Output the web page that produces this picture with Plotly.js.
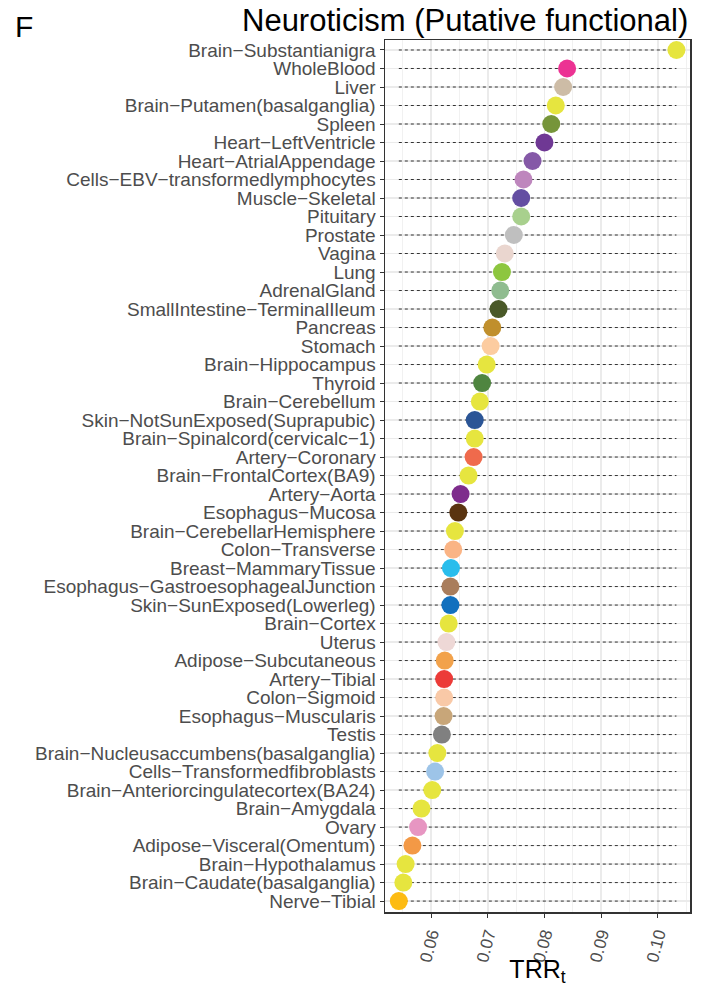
<!DOCTYPE html>
<html>
<head>
<meta charset="utf-8">
<script src="https://cdn.plot.ly/plotly-3.0.1.min.js"></script>
<style>
  html, body { margin: 0; padding: 0; background: #ffffff; }
  #chart { width: 706px; height: 987px; }
</style>
</head>
<body>
<div id="chart"></div>
<script>
// Tissues, ordered top to bottom
const tissues = [
  "Brain\u2212Substantianigra", "WholeBlood", "Liver", "Brain\u2212Putamen(basalganglia)", "Spleen",
  "Heart\u2212LeftVentricle", "Heart\u2212AtrialAppendage", "Cells\u2212EBV\u2212transformedlymphocytes",
  "Muscle\u2212Skeletal", "Pituitary", "Prostate", "Vagina", "Lung", "AdrenalGland",
  "SmallIntestine\u2212TerminalIleum", "Pancreas", "Stomach", "Brain\u2212Hippocampus", "Thyroid",
  "Brain\u2212Cerebellum", "Skin\u2212NotSunExposed(Suprapubic)", "Brain\u2212Spinalcord(cervicalc\u22121)",
  "Artery\u2212Coronary", "Brain\u2212FrontalCortex(BA9)", "Artery\u2212Aorta", "Esophagus\u2212Mucosa",
  "Brain\u2212CerebellarHemisphere", "Colon\u2212Transverse", "Breast\u2212MammaryTissue",
  "Esophagus\u2212GastroesophagealJunction", "Skin\u2212SunExposed(Lowerleg)", "Brain\u2212Cortex",
  "Uterus", "Adipose\u2212Subcutaneous", "Artery\u2212Tibial", "Colon\u2212Sigmoid",
  "Esophagus\u2212Muscularis", "Testis", "Brain\u2212Nucleusaccumbens(basalganglia)",
  "Cells\u2212Transformedfibroblasts", "Brain\u2212Anteriorcingulatecortex(BA24)", "Brain\u2212Amygdala",
  "Ovary", "Adipose\u2212Visceral(Omentum)", "Brain\u2212Hypothalamus", "Brain\u2212Caudate(basalganglia)",
  "Nerve\u2212Tibial"
];

// TRR_t per tissue
const trrValues = [
  0.1033, 0.0840, 0.0833, 0.0820, 0.0812,
  0.0800, 0.0779, 0.0763,
  0.0759, 0.0759, 0.0746, 0.0730, 0.0725, 0.0722,
  0.0719, 0.0708, 0.0705, 0.0698, 0.0690,
  0.0686, 0.0677, 0.0677,
  0.0675, 0.0666, 0.0652, 0.0648,
  0.0642, 0.0639, 0.0635,
  0.0634, 0.0634, 0.0631,
  0.0627, 0.0624, 0.0623, 0.0623,
  0.0622, 0.0619, 0.0611,
  0.0607, 0.0602, 0.0583,
  0.0577, 0.0567, 0.0555, 0.0551,
  0.0543
];

// Tissue colours
const tissueColors = [
  "#E6E53F", "#EC3293", "#CDBCA6", "#E6E53F", "#76953A",
  "#6F3894", "#8559A7", "#BE86BD",
  "#644EA2", "#A8D08D", "#BFBFBF", "#EAD6CF", "#8DC63F", "#8FBC8F",
  "#4A5928", "#C08F2C", "#FCCCA0", "#E6E53F", "#4F8540",
  "#E6E53F", "#2B5596", "#E6E53F",
  "#EF6A4C", "#E6E53F", "#7E2C8C", "#5A3410",
  "#E6E53F", "#FAB485", "#29BDEC",
  "#A97D5C", "#1270BE", "#E6E53F",
  "#EED8D6", "#F2A24B", "#EC3B38", "#F9C9A7",
  "#C8A679", "#808080", "#E6E53F",
  "#9DC4E8", "#E6E53F", "#E6E53F",
  "#E796C2", "#F39946", "#E6E53F", "#E6E53F",
  "#FDBB12"
];

const xTickVals = [0.06, 0.07, 0.08, 0.09, 0.10];
const xTickText = ["0.06", "0.07", "0.08", "0.09", "0.10"];

// Dashed guide for each row, spanning the lowest to the highest value
const lo = Math.min(...trrValues), hi = Math.max(...trrValues);
const gx = [], gy = [];
tissues.forEach(t => { gx.push(lo, hi, null); gy.push(t, t, null); });

const guides = {
  type: "scatter", mode: "lines", x: gx, y: gy,
  line: { color: "#333333", width: 1, dash: "3px,3px" },
  hoverinfo: "skip", showlegend: false
};

const dots = {
  type: "scatter", mode: "markers", x: trrValues, y: tissues,
  marker: { size: 18, color: tissueColors, line: { width: 0 } },
  showlegend: false
};

const n = tissues.length;
const layout = {
  width: 706, height: 987,
  margin: { l: 385, r: 16, t: 40, b: 75 },
  paper_bgcolor: "#ffffff", plot_bgcolor: "#ffffff",
  font: { family: "Liberation Sans, Arial, sans-serif" },
  showlegend: false,
  xaxis: {
    range: [0.05186, 0.10569],
    tickmode: "array", tickvals: xTickVals, ticktext: xTickText,
    tickangle: -75,
    tickfont: { size: 17, color: "#4d4d4d" },
    ticks: "outside", ticklen: 4, tickcolor: "#333333", tickwidth: 1,
    showgrid: true, gridcolor: "#ebebeb", gridwidth: 1.5,
    minor: { dtick: 0.01, tick0: 0.055, showgrid: true, gridcolor: "#f1f1f1", gridwidth: 1 },
    zeroline: false,
    showline: true, mirror: true, linecolor: "#333333", linewidth: 1.5,
    title: { text: "TRR<sub>t</sub>", font: { size: 25, color: "#000000" }, standoff: 4 }
  },
  yaxis: {
    type: "category",
    categoryorder: "array", categoryarray: tissues,
    tickmode: "array", tickvals: tissues, ticktext: tissues,
    range: [n - 1 + 0.59, -0.54],
    tickfont: { size: 19, color: "#4d4d4d" },
    ticks: "outside", ticklen: 4, tickcolor: "#333333", tickwidth: 1,
    showgrid: true, gridcolor: "#ebebeb", gridwidth: 1.5,
    zeroline: false,
    showline: true, mirror: true, linecolor: "#333333", linewidth: 1.5
  },
  annotations: [
    {
      text: "Neuroticism (Putative functional)", xref: "paper", yref: "paper",
      x: 1, y: 1, xanchor: "right", yanchor: "bottom", yshift: 0,
      showarrow: false, font: { size: 31, color: "#000000" }
    },
    {
      text: "F", xref: "paper", yref: "paper",
      x: -1.22, y: 1.015, xanchor: "left", yanchor: "middle",
      showarrow: false, font: { size: 30, color: "#000000" }
    }
  ]
};

Plotly.newPlot("chart", [guides, dots], layout, { displayModeBar: false, staticPlot: true });
</script>
</body>
</html>
